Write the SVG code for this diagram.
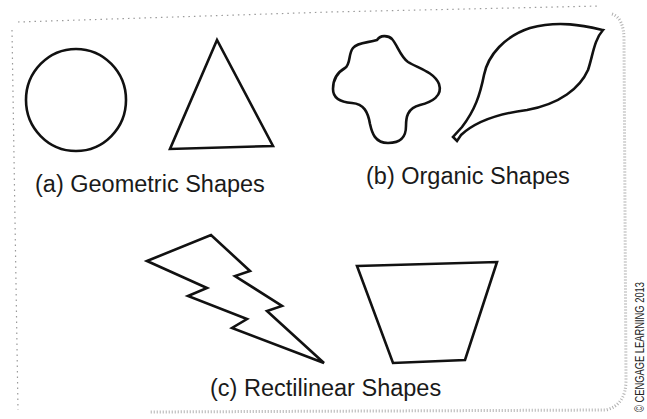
<svg xmlns="http://www.w3.org/2000/svg" width="647" height="419" viewBox="0 0 647 419">
<style>
.shape{fill:none;stroke:#111;stroke-width:2.6;stroke-linejoin:miter;stroke-linecap:round}
.lbl{font-family:"Liberation Sans",Arial,sans-serif;font-size:23.5px;fill:#1a1a1a}
.copy{font-family:"Liberation Sans",Arial,sans-serif;font-size:13.5px;fill:#222}
.edge{fill:none;stroke:#9a9a9a;stroke-width:1.2;stroke-dasharray:1.5 4}
.edge2{fill:none;stroke:#b0b0b0;stroke-width:3;stroke-dasharray:1 2}
</style>
<rect width="647" height="419" fill="#fff"/>
<g id="border">
<path class="edge" d="M18,22 L330,12 L600,6"/>
<path class="edge" d="M12,30 L18,410"/>
<path class="edge2" d="M612,14 Q624,18 624,40 L626,380 Q626,405 606,410 L150,412"/>
</g>
<g id="circle"><ellipse class="shape" cx="76" cy="100" rx="50" ry="51"/></g>
<g id="triangle"><polygon class="shape" points="217,40 170,149 273,146"/></g>
<g id="label-a"><text class="lbl" x="35" y="192">(a) Geometric Shapes</text></g>
<g id="blob"><path class="shape" d="M377,40 C380,35 388,35 392,39 C398,46 400,56 408,62 C418,68 434,72 439,84 C443,96 432,102 420,105 C407,108 406,118 406,126 C406,136 402,143 388,143 C375,143 372,133 370,124 C368,112 364,104 352,103 C337,102 333,96 333,89 C333,78 338,72 345,68 C351,64 348,54 353,48 C358,42 368,43 377,40 Z"/></g>
<g id="leaf"><path class="shape" d="M603,30 C585,26 560,20 530,28 C505,36 488,55 484,75 C480,95 475,110 462,127 L453,137 L457,141 L461,135 C475,122 495,114 527,110 C560,104 580,88 588,70 C593,55 594,40 603,30 Z"/></g>
<g id="label-b"><text class="lbl" x="366" y="184">(b) Organic Shapes</text></g>
<g id="bolt"><polygon class="shape" points="147,261 211,235 250,271 235,276 282,306 267,311 324,363 232,328 247,319 188,296 207,288"/></g>
<g id="trapezoid"><polygon class="shape" points="357,266 497,262 465,360 393,363"/></g>
<g id="label-c"><text class="lbl" x="210" y="396">(c) Rectilinear Shapes</text></g>
<g id="copyright"><text class="copy" transform="translate(644,412) rotate(-90)" textLength="130" lengthAdjust="spacingAndGlyphs">© CENGAGE LEARNING 2013</text></g>
</svg>
